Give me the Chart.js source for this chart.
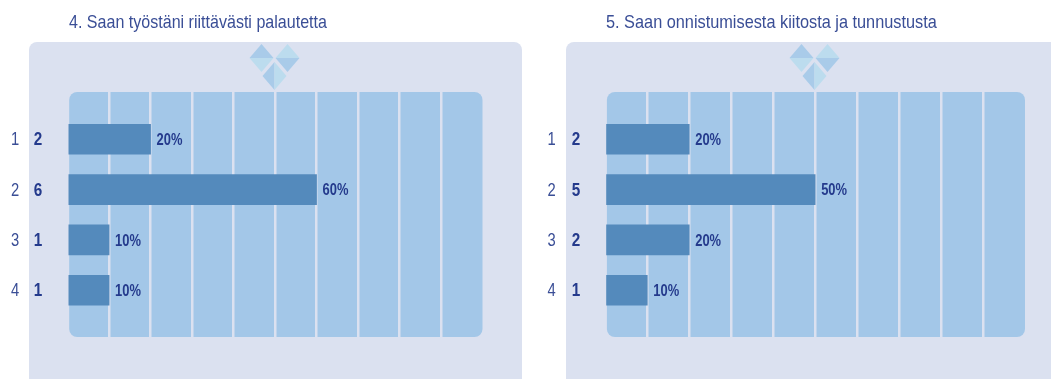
<!DOCTYPE html>
<html>
<head>
<meta charset="utf-8">
<title>Palaute</title>
<script src="https://cdn.jsdelivr.net/npm/chart.js@4"></script>
<style>
  html, body { margin: 0; padding: 0; background: #fff; overflow: hidden; }
  canvas { position: absolute; top: 0; }
  #chart-4 { left: 0; }
  #chart-5 { left: 540px; }
</style>
</head>
<body>
<canvas id="chart-4"></canvas>
<canvas id="chart-5"></canvas>
<script>
const categories = ['1', '2', '3', '4'];
const title4 = '4. Saan työstäni riittävästi palautetta';
const counts4 = [2, 6, 1, 1];
const percents4 = [20, 60, 10, 10];
const title5 = '5. Saan onnistumisesta kiitosta ja tunnustusta';
const counts5 = [2, 5, 2, 1];
const percents5 = [20, 50, 20, 10];

const TEXT = '#3a4e96';
const TEXT_BOLD = '#243a8c';
const PANEL = '#dbe1f0';
const PLOT = '#a3c7e8';
const BAR = '#548abc';
const FONT = '"Liberation Sans", sans-serif';

function tri(ctx, color, a, b, c) {
  ctx.fillStyle = color;
  ctx.beginPath();
  ctx.moveTo(a[0], a[1]);
  ctx.lineTo(b[0], b[1]);
  ctx.lineTo(c[0], c[1]);
  ctx.closePath();
  ctx.fill();
}

// the little heart of three diamonds above the plot
function drawLogo(ctx, cx) {
  const dark = '#a9cbe9', light = '#bcdcee', r = 12, v = 14;
  const left = cx - 13, right = cx + 13, mid = 58, low = 76;
  tri(ctx, dark, [left - r, mid], [left, mid - v], [left + r, mid]);
  tri(ctx, light, [left - r, mid], [left, mid + v], [left + r, mid]);
  tri(ctx, light, [right - r, mid], [right, mid - v], [right + r, mid]);
  tri(ctx, dark, [right - r, mid], [right, mid + v], [right + r, mid]);
  tri(ctx, dark, [cx, low - v], [cx - r, low], [cx, low + v]);
  tri(ctx, light, [cx, low - v], [cx + r, low], [cx, low + v]);
}

// the original type is tall and squeezed, no narrow face is installed
function narrowText(ctx, text, x, y, font, squeeze, color, align) {
  ctx.save();
  ctx.translate(x, y);
  ctx.scale(squeeze, 1);
  ctx.font = font;
  ctx.fillStyle = color;
  ctx.textAlign = align;
  ctx.textBaseline = 'middle';
  ctx.fillText(text, 0, 0);
  ctx.restore();
}

function makeChart(id, title, counts, percents, cfg) {
  const canvas = document.getElementById(id);
  canvas.width = cfg.width;
  canvas.height = 379;
  canvas.style.width = cfg.width + 'px';
  canvas.style.height = '379px';

  const backdrop = {
    id: 'backdrop',
    beforeDraw(chart) {
      const { ctx, chartArea: a } = chart;
      ctx.save();
      ctx.fillStyle = PANEL;
      ctx.beginPath();
      ctx.roundRect(cfg.panelLeft, 42, cfg.panelWidth, 345, 8);
      ctx.fill();
      ctx.fillStyle = PLOT;
      ctx.beginPath();
      ctx.roundRect(a.left + 1.6, a.top, a.right - a.left - 1.6, a.bottom - a.top, 8);
      ctx.fill();
      drawLogo(ctx, cfg.logoX);
      ctx.restore();
    }
  };

  const labels = {
    id: 'labels',
    afterDatasetsDraw(chart) {
      const { ctx, scales } = chart;
      narrowText(ctx, title, cfg.titleX, 23, '19px ' + FONT, cfg.titleSqueeze, TEXT, 'left');
      categories.forEach((cat, i) => {
        const y = scales.y.getPixelForValue(i);
        narrowText(ctx, cat, cfg.catX, y + 1, '18px ' + FONT, 0.82, TEXT, 'center');
        narrowText(ctx, String(counts[i]), cfg.countX, y + 1, 'bold 18px ' + FONT, 0.85, TEXT_BOLD, 'center');
        narrowText(ctx, percents[i] + '%', scales.x.getPixelForValue(percents[i]) + 6, y + 1,
          'bold 17px ' + FONT, 0.76, TEXT_BOLD, 'left');
      });
    }
  };

  return new Chart(canvas, {
    type: 'bar',
    data: {
      datasets: [{
        data: percents.map((p, i) => ({ x: p, y: i })),
        backgroundColor: BAR,
        borderWidth: 0,
        barThickness: 30
      }]
    },
    options: {
      indexAxis: 'y',
      responsive: false,
      animation: false,
      layout: {
        padding: { left: cfg.plotLeft, right: cfg.width - cfg.plotRight, top: 92, bottom: 42 }
      },
      plugins: { legend: { display: false }, tooltip: { enabled: false } },
      scales: {
        x: {
          type: 'linear',
          min: 0,
          max: 100,
          border: { display: false },
          ticks: { display: false, stepSize: 10 },
          grid: {
            drawTicks: false,
            lineWidth: 2.5,
            color: ctx => (ctx.tick.value === 0 || ctx.tick.value === 100) ? 'transparent' : PANEL
          }
        },
        y: {
          type: 'linear',
          reverse: true,
          offset: false,
          min: -0.94,
          max: 3.93,
          display: false
        }
      }
    },
    plugins: [backdrop, labels]
  });
}

makeChart('chart-4', title4, counts4, percents4, {
  width: 535, panelLeft: 29, panelWidth: 493, plotLeft: 67.6, plotRight: 482.5,
  logoX: 274.5, titleX: 69, catX: 15, countX: 38, titleSqueeze: 0.845
});
makeChart('chart-5', title5, counts5, percents5, {
  width: 511, panelLeft: 26, panelWidth: 500, plotLeft: 65.3, plotRight: 485,
  logoX: 274.5, titleX: 66, catX: 11.5, countX: 36, titleSqueeze: 0.858
});
</script>
</body>
</html>
